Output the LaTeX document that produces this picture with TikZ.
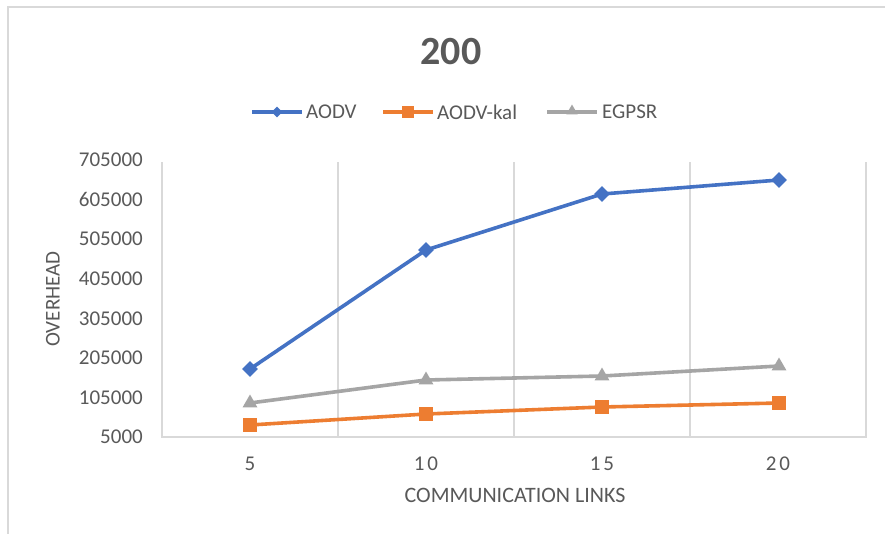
\documentclass[tikz,border=0pt]{standalone}
\usepackage{fontspec}
\setmainfont{Carlito}
\usetikzlibrary{shapes.geometric}
\definecolor{txt}{HTML}{595959}
\definecolor{grid}{HTML}{D9D9D9}
\definecolor{cblue}{HTML}{4472C4}
\definecolor{corange}{HTML}{ED7D31}
\definecolor{cgray}{HTML}{A5A5A5}
\tikzset{
  lbl/.style={text=txt, font=\fontsize{21}{25}\selectfont, inner sep=0pt},
  axt/.style={text=txt, font=\fontsize{22}{26}\selectfont, inner sep=0pt},
  ttl/.style={text=txt, font=\fontsize{40}{46}\selectfont\bfseries, inner sep=0pt},
  gridline/.style={draw=grid, line width=1.2pt},
  series/.style={line width=3.6pt, line join=round},
  dmark/.style={diamond, shape aspect=1, fill=cblue, minimum width=16pt, minimum height=16pt, inner sep=0pt},
  smark/.style={rectangle, fill=corange, minimum size=14pt, inner sep=0pt},
  tmark/.style={regular polygon, regular polygon sides=3, fill=cgray, minimum size=17pt, inner sep=0pt},
  dleg/.style={dmark, minimum width=11pt, minimum height=11pt},
  sleg/.style={smark, minimum size=12pt},
  tleg/.style={tmark, minimum size=13pt},
}
\begin{document}
\begin{tikzpicture}[x=1pt,y=-1pt]
\useasboundingbox (0,0) rectangle (885,533);
\fill[white] (0,0) rectangle (885,533);
% chart border
\draw[grid, line width=1.2pt] (8,7) rectangle (895,545);
% title
\node[ttl] (title) at (451,52) {200};
% legend
\coordinate (l1a) at (252,112); \coordinate (l1b) at (302,112);
\draw[cblue, series] (l1a) -- (l1b);
\node[dleg] (l1m) at (277,112) {};
\node[lbl, anchor=west] (l1t) at (306,112) {AODV};
\coordinate (l2a) at (383,112); \coordinate (l2b) at (433,112);
\draw[corange, series] (l2a) -- (l2b);
\node[sleg] (l2m) at (408,112) {};
\node[lbl, anchor=west] (l2t) at (437,112) {AODV-kal};
\coordinate (l3a) at (547,112); \coordinate (l3b) at (597,112);
\draw[cgray, series] (l3a) -- (l3b);
\node[tleg] (l3m) at (572,111) {};
\node[lbl, anchor=west] (l3t) at (602,112) {EGPSR};
% plot area grid
\coordinate (g0t) at (162,162); \coordinate (g0b) at (162,437);
\coordinate (g1t) at (338,162); \coordinate (g1b) at (338,437);
\coordinate (g2t) at (514,162); \coordinate (g2b) at (514,437);
\coordinate (g3t) at (690,162); \coordinate (g3b) at (690,437);
\coordinate (g4t) at (866,162); \coordinate (g4b) at (866,437);
\draw[gridline] (g0t) -- (g0b) -- (g4b) -- (g4t);
\draw[gridline] (g1t) -- (g1b);
\draw[gridline] (g2t) -- (g2b);
\draw[gridline] (g3t) -- (g3b);
% y tick labels
\node[lbl, anchor=east] (y0) at (143,437) {5000};
\node[lbl, anchor=east] (y1) at (143,397.4) {105000};
\node[lbl, anchor=east] (y2) at (143,357.9) {205000};
\node[lbl, anchor=east] (y3) at (143,318.3) {305000};
\node[lbl, anchor=east] (y4) at (143,278.7) {405000};
\node[lbl, anchor=east] (y5) at (143,239.1) {505000};
\node[lbl, anchor=east] (y6) at (143,199.6) {605000};
\node[lbl, anchor=east] (y7) at (143,160) {705000};
% x tick labels
\node[lbl] (x1) at (250,464) {5};
\node[lbl] (x2) at (426,464) {1\hspace{3pt}0};
\node[lbl] (x3) at (602,464) {1\hspace{3pt}5};
\node[lbl] (x4) at (778,464) {2\hspace{3pt}0};
% axis titles
\node[axt] (xt) at (515,495) {COMMUNICATION LINKS};
\node[lbl, rotate=90] (yt) at (53,299) {OVERHEAD};
% data points
\coordinate (a1) at (250,369); \coordinate (a2) at (426,250);
\coordinate (a3) at (602,194); \coordinate (a4) at (779,180);
\coordinate (k1) at (250,425); \coordinate (k2) at (426,414);
\coordinate (k3) at (602,407); \coordinate (k4) at (779,403);
\coordinate (e1) at (250,403); \coordinate (e2) at (426,380);
\coordinate (e3) at (602,376); \coordinate (e4) at (779,366);
\draw[cgray, series] (e1) -- (e2) -- (e3) -- (e4);
\draw[corange, series] (k1) -- (k2) -- (k3) -- (k4);
\draw[cblue, series] (a1) -- (a2) -- (a3) -- (a4);
\foreach \p in {1,2,3,4} {
  \node[tmark] (em\p) at (e\p) {};
  \node[smark] (km\p) at (k\p) {};
  \node[dmark] (am\p) at (a\p) {};
}
\end{tikzpicture}
\end{document}
